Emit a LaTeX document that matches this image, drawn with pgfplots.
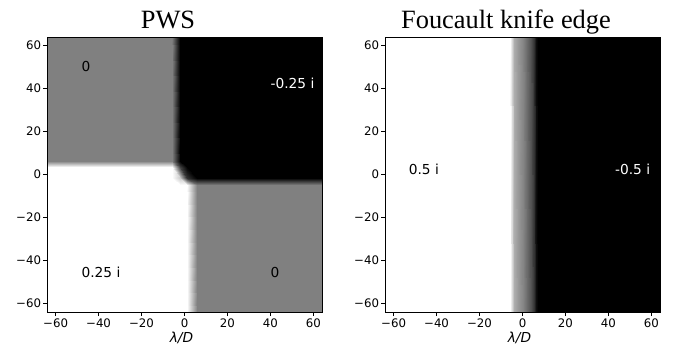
\documentclass[border=0pt]{standalone}
\usepackage{pgfplots}
\pgfplotsset{compat=1.18}
\usepackage{fontspec}
\setmainfont{DejaVu Sans}
\newfontfamily\titlefont{Liberation Serif}
\newcommand\tl[1]{{\fontsize{11.8}{13}\selectfont #1}}
\pgfplotstableread{
x y v
-64 -64 0.25
-6 -64 0.25
-2 -64 0.25
1 -64 0.25
6 -64 0
64 -64 0

-64 -5 0.25
-6 -5 0.25
-2 -5 0.25
1 -5 0.25
6 -5 0
64 -5 0

-64 -1.5 0.25
-6 -1.5 0.25
-2 -1.5 0.15
1 -1.5 -0.15
6 -1.5 -0.25
64 -1.5 -0.25

-64 3.5 0.25
-6 3.5 0.25
-2 3.5 -0.125
1 3.5 -0.25
6 3.5 -0.25
64 3.5 -0.25

-64 6.5 0
-6 6.5 0
-2 6.5 -0.25
1 6.5 -0.25
6 6.5 -0.25
64 6.5 -0.25

-64 64 0
-6 64 0
-2 64 -0.25
1 64 -0.25
6 64 -0.25
64 64 -0.25
}\pws
\pgfplotstableread{
x y v
-64 -64 0.5
-6 -64 0.5
-5 -64 0.35
-4 -64 0.18
-2 -64 0.1
0 -64 0.02
2 -64 -0.08
4 -64 -0.18
5.5 -64 -0.3
6.5 -64 -0.45
7 -64 -0.5
64 -64 -0.5

-64 64 0.5
-6 64 0.5
-5 64 0.35
-4 64 0.18
-2 64 0.1
0 64 0.02
2 64 -0.08
4 64 -0.18
5.5 64 -0.3
6.5 64 -0.45
7 64 -0.5
64 64 -0.5
}\knife
\tikzset{ann/.style={anchor=base west, inner sep=0pt, font=\fontsize{13.8}{16}\selectfont}}
\pgfplotsset{
  panel/.style={
    width=275bp, height=275bp, scale only axis,
    xmin=-64, xmax=64, ymin=-64, ymax=64,
    axis on top,
    xtick={-60,-40,-20,0,20,40,60},
    ytick={-60,-40,-20,0,20,40,60},
    xticklabels={\tl{−60},\tl{−40},\tl{−20},\tl{0},\tl{20},\tl{40},\tl{60}},
    yticklabels={\tl{−60},\tl{−40},\tl{−20},\tl{0},\tl{20},\tl{40},\tl{60}},
    tick align=outside, xtick pos=bottom, ytick pos=left,
    major tick length=4bp,
    every tick/.style={black, line width=0.9bp},
    axis line style={line width=0.9bp},
    tick label style={inner sep=0pt},
    xticklabel style={anchor=base, yshift=-11.5bp},
    yticklabel style={anchor=east, xshift=-1.8bp},
    xlabel={\itshape λ/D},
    every axis x label/.style={at={(axis description cs:0.5,0)}, anchor=base, xshift=-3bp, yshift=-30.3bp, inner sep=0pt, font=\fontsize{13.8}{16}\selectfont},
    every axis title/.style={at={(axis description cs:0.5,1)}, anchor=base, xshift=-16.5bp, yshift=8.7bp, inner sep=0pt, font=\titlefont\fontsize{26.5}{30}\selectfont},
    colormap={bw}{gray(0cm)=(0); gray(1cm)=(1)},
  },
}
\begin{document}
\begin{tikzpicture}
\useasboundingbox (0,0) rectangle (674bp,351bp);
\begin{axis}[panel, at={(47bp,39bp)}, anchor=south west, title={PWS},
  point meta min=-0.25, point meta max=0.25]
\addplot[surf, shader=interp, mesh/rows=6, mesh/cols=6, point meta=\thisrow{v}] table[x=x,y=y] {\pws};
\node[ann, black] at (axis cs:-48,48) {0};
\node[ann, white] at (axis cs:40,40) {-0.25 i};
\node[ann, black] at (axis cs:-48,-48) {0.25 i};
\node[ann, black] at (axis cs:40,-48) {0};
\end{axis}
\begin{axis}[panel, at={(385bp,39bp)}, anchor=south west, title={Foucault knife edge},
  point meta min=-0.5, point meta max=0.5]
\addplot[surf, shader=interp, mesh/rows=2, mesh/cols=12, point meta=\thisrow{v}] table[x=x,y=y] {\knife};
\node[ann, black] at (axis cs:-53,0) {0.5 i};
\node[ann, white] at (axis cs:43,0) {-0.5 i};
\end{axis}
\end{tikzpicture}
\end{document}
